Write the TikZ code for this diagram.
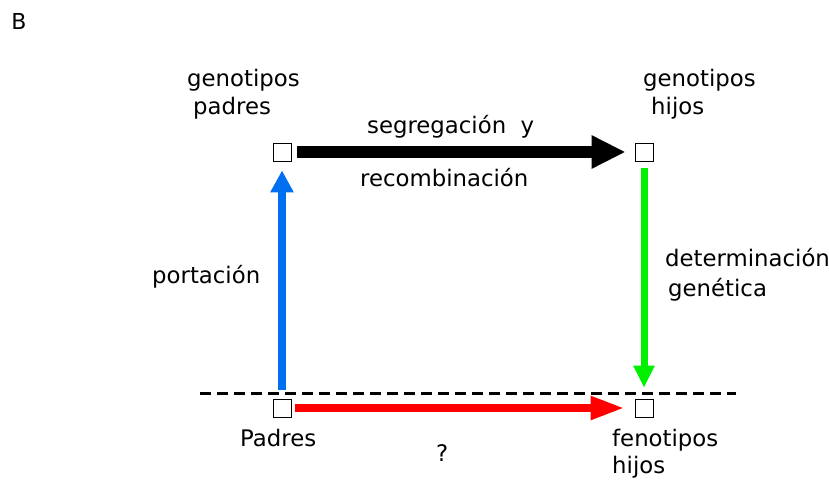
\documentclass[tikz,border=0pt]{standalone}
\usepackage{fontspec}
\setmainfont{DejaVu Sans}
\usetikzlibrary{arrows.meta}
\definecolor{ablue}{RGB}{0,112,240}
\definecolor{agreen}{RGB}{0,240,0}
\definecolor{ared}{RGB}{255,0,0}
\begin{document}
\begin{tikzpicture}[x=1pt,y=-1pt,
  sq/.style={draw=black,line width=0.8pt,minimum size=18pt,inner sep=0pt,fill=white},
  lbl/.style={font=\fontsize{22.8}{27}\selectfont,inner sep=0pt,align=left}]
\useasboundingbox (0,0) rectangle (829,486);
\node[font=\fontsize{22}{24}\selectfont,inner sep=0pt] (B) at (19,21) {B};
\node[sq] (pg) at (282,152) {};
\node[sq] (hg) at (644,152) {};
\node[sq] (pf) at (282,408) {};
\node[sq] (hf) at (644,408) {};
\coordinate (dl) at (200,393);
\coordinate (dr) at (736,393);
\draw[line width=3pt,dash pattern=on 11pt off 6pt] (dl) -- (dr);
\draw[black,line width=12pt,-{Triangle[length=34pt,width=31pt]},shorten <=6pt,shorten >=9pt] (pg) -- (hg);
\draw[ablue,line width=8pt,-{Triangle[length=22pt,width=22pt]},shorten <=9pt,shorten >=9pt] (pf) -- (pg);
\draw[agreen,line width=7pt,-{Triangle[length=22pt,width=20pt]},shorten <=7pt,shorten >=11pt] (hg) -- (hf);
\draw[ared,line width=8pt,-{Triangle[length=34pt,width=22pt]},shorten <=4pt,shorten >=10pt] (pf) -- (hf);
\node[lbl,anchor=west] (t1) at (187,80) {genotipos};
\node[lbl,anchor=west] (t2) at (193,108) {padres};
\node[lbl,anchor=west] (t3) at (643,80) {genotipos};
\node[lbl,anchor=west] (t4) at (651,108) {hijos};
\node[lbl,anchor=west] (t5) at (367,127) {segregación\ \ y};
\node[lbl,anchor=west] (t6) at (360,178) {recombinación};
\node[lbl,anchor=west] (t7) at (152,277) {portación};
\node[lbl,anchor=west] (t8) at (665,258) {determinación};
\node[lbl,anchor=west] (t9) at (668,290) {genética};
\node[lbl,anchor=west] (t10) at (240,438) {Padres};
\node[lbl,anchor=west] (t11) at (436,453) {?};
\node[lbl,anchor=west] (t12) at (612,440) {fenotipos};
\node[lbl,anchor=west] (t13) at (612,467) {hijos};
\end{tikzpicture}
\end{document}
